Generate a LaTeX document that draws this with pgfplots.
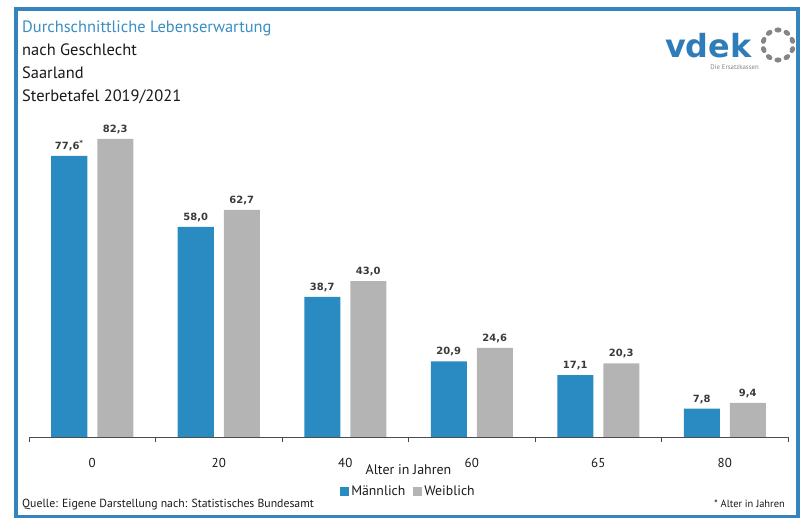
\documentclass[border=0pt]{standalone}
\usepackage{fontspec}
\setmainfont{PT Sans}
\newfontfamily\dejavu{DejaVu Sans}
\usepackage{pgfplots}
\pgfplotsset{compat=1.18}
\usepackage{pgfplotstable}
\definecolor{barblue}{HTML}{2A8BC2}
\definecolor{bargray}{HTML}{B4B4B4}
\definecolor{titleblue}{HTML}{3A8EC2}
\definecolor{frameblue}{HTML}{3584BE}
\definecolor{logoblue}{HTML}{2F7DB8}
\definecolor{dotgray}{HTML}{858585}
\definecolor{labelgray}{HTML}{3A3A3A}

\pgfplotstableread{
x m w ml wl
0 77.6 82.3 {77,6\textsuperscript{*}} {82,3}
1 58.0 62.7 {58,0} {62,7}
2 38.7 43.0 {38,7} {43,0}
3 20.9 24.6 {20,9} {24,6}
4 17.1 20.3 {17,1} {20,3}
5 7.8 9.4 {7,8} {9,4}
}\datatable

\begin{document}
\begin{tikzpicture}
\useasboundingbox (0bp,0bp) rectangle (803bp,520bp);
\draw[frameblue, line width=3.2bp] (16bp,3.5bp) rectangle (798bp,511bp);
% titles
\node[anchor=base west, inner sep=0, text=titleblue, font=\fontsize{16.5}{19}\selectfont] at (22bp,487bp) {Durchschnittliche Lebenserwartung};
\node[anchor=base west, inner sep=0, text=black!90, font=\fontsize{16.5}{19}\selectfont] at (22bp,464bp) {nach Geschlecht};
\node[anchor=base west, inner sep=0, text=black!90, font=\fontsize{16.5}{19}\selectfont] at (22bp,441bp) {Saarland};
\node[anchor=base west, inner sep=0, text=black!90, font=\fontsize{16.5}{19}\selectfont] at (22bp,418bp) {Sterbetafel 2019/2021};
% logo
\node[anchor=base west, inner sep=0, text=logoblue, font=\dejavu\bfseries\fontsize{32}{34}\selectfont] at (665bp,462bp) {vdek};
\node[anchor=base east, inner sep=0, text=dotgray, font=\fontsize{6.8}{7}\selectfont] at (759bp,450.5bp) {Die Ersatzkassen};
\foreach \a in {90,126,162,198,234,270,306,342,18,54} {
  \fill[dotgray, rotate around={\a:(778bp,475bp)}] (793bp,475bp) ellipse (2.6bp and 3.6bp);
}
% footer
\node[anchor=base west, inner sep=0, text=black!90, font=\fontsize{11.8}{13}\selectfont] at (22bp,13bp) {Quelle: Eigene Darstellung nach: Statistisches Bundesamt};
\node[anchor=base east, inner sep=0, text=black!90, font=\fontsize{10.5}{12}\selectfont] at (785bp,13bp) {* Alter in Jahren};

\begin{axis}[
  at={(29bp,83bp)}, anchor=south west,
  scale only axis, width=759bp, height=326bp,
  xmin=-0.5, xmax=5.5, ymin=0, ymax=90,
  ybar=10bp, bar width=36bp,
  axis x line*=bottom, axis y line=none,
  axis line style={draw=black!70, line width=0.8bp},
  xtick={0,...,5},
  xticklabels={0,20,40,60,65,80},
  major x tick style={draw=none},
  minor xtick={-0.5,0.5,...,5.5},
  minor tick length=5bp,
  tick align=outside,
  minor x tick style={draw=black!70, line width=0.8bp},
  xticklabel style={anchor=center, yshift=-22bp, font=\fontsize{13}{15}\selectfont, text=black!90},
  xlabel={Alter in Jahren},
  every axis x label/.style={at={(axis description cs:0.5,0)}, anchor=center, yshift=-33bp, font=\fontsize{14}{16}\selectfont, text=black!90},
  point meta=explicit symbolic,
  nodes near coords,
  every node near coord/.append style={font=\dejavu\bfseries\fontsize{10}{12}\selectfont, text=labelgray, inner sep=0pt, yshift=5bp},
  legend style={at={(axis description cs:0.5,0)}, anchor=center, yshift=-54bp, draw=none, fill=none,
    legend columns=2, font=\fontsize{13.8}{15}\selectfont, text=black!90,
    /tikz/every even column/.append style={column sep=6bp}},
  legend image code/.code={\fill (0bp,-4.5bp) rectangle (9bp,4.5bp);},
  clip=false,
]
\addplot[fill=barblue, draw=none] table[x=x, y=m, meta=ml] {\datatable};
\addplot[fill=bargray, draw=none] table[x=x, y=w, meta=wl] {\datatable};
\legend{Männlich, Weiblich}
\end{axis}
\end{tikzpicture}
\end{document}
